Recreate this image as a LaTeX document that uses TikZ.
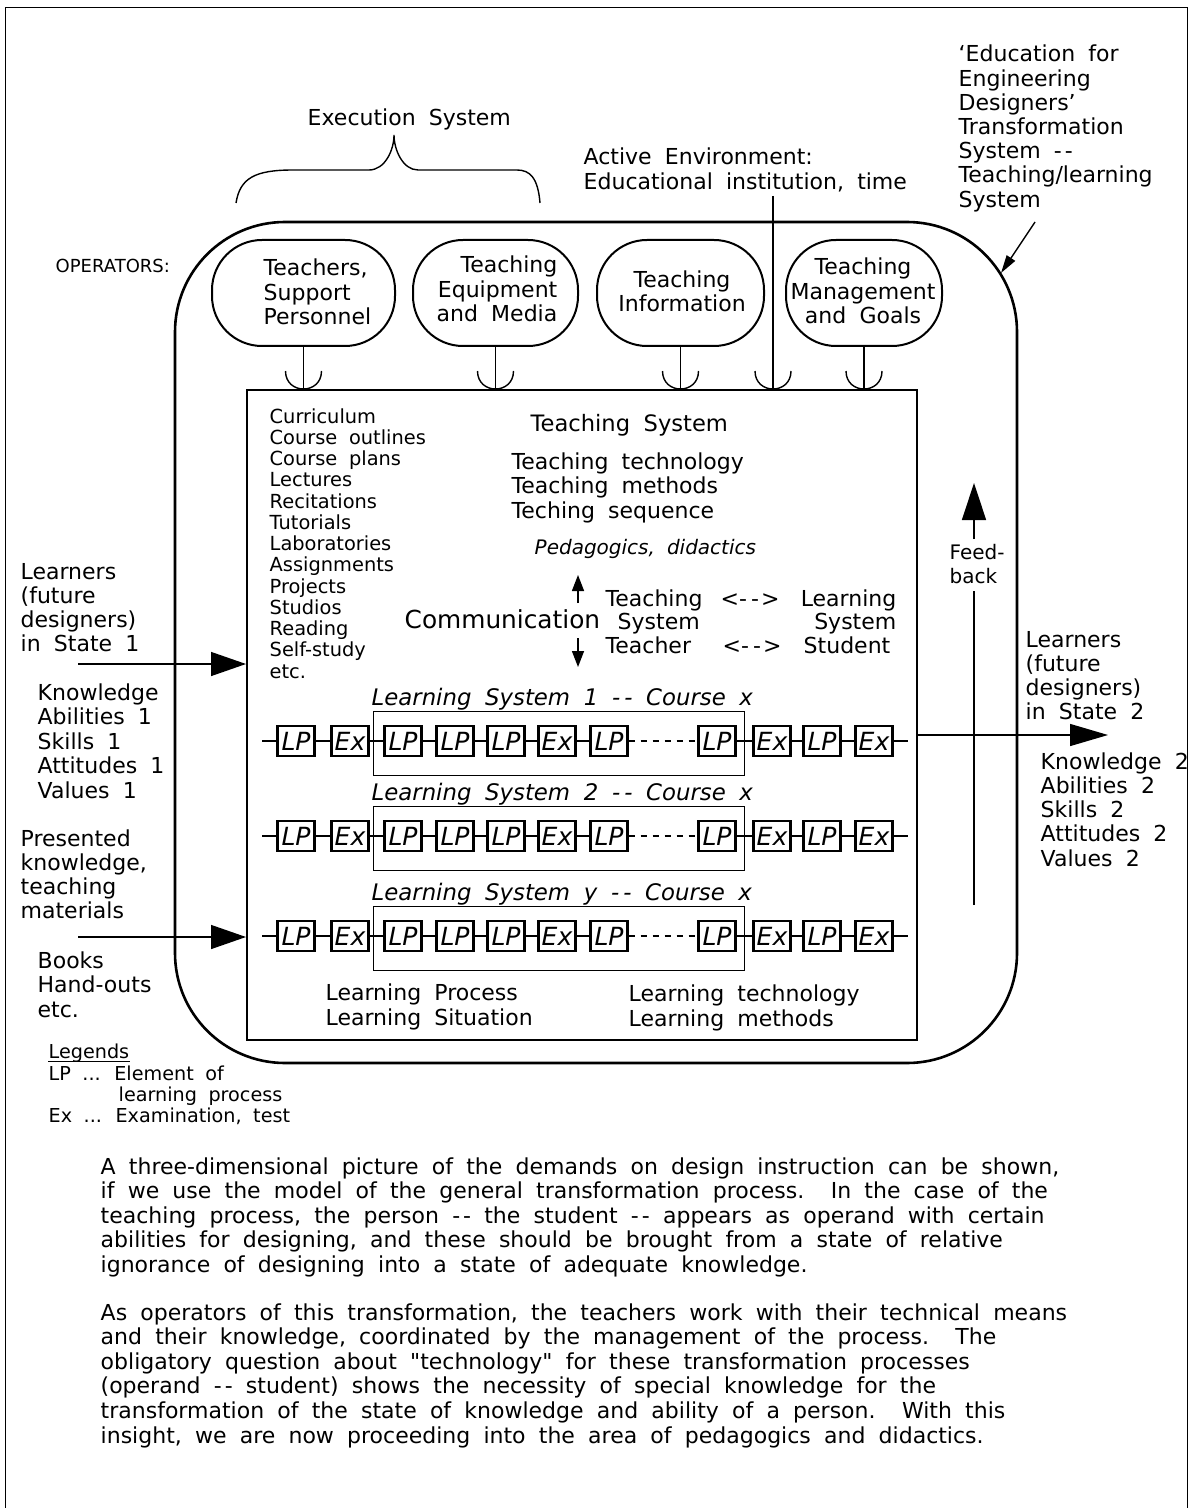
\documentclass[tikz,border=0pt]{standalone}
\usepackage{fontspec}
\setmainfont{DejaVu Sans}
\usetikzlibrary{arrows.meta}

\newcommand\widesp{\spaceskip=0.6em plus 0.1em\relax}

\tikzset{
  txt/.style={anchor=base west, inner sep=0pt, font=\fontsize{11}{12.25}\selectfont\widesp},
  smalltxt/.style={txt, font=\fontsize{9.7}{10.6}\selectfont\widesp},
  legtxt/.style={txt, font=\fontsize{9.6}{10.5}\selectfont\widesp},
  ittxt/.style={txt, font=\fontsize{11.4}{12}\selectfont\itshape\widesp},
  oper/.style={draw, line width=1pt, rounded corners=25pt, minimum height=53pt, inner sep=0pt},
  opertxt/.style={inner sep=0pt, font=\fontsize{11}{12.2}\selectfont\widesp},
  lpbox/.style={draw, line width=1.1pt, minimum width=18.5pt, minimum height=15pt, inner sep=0pt, font=\fontsize{12.5}{13}\selectfont\itshape},
  bigarrow/.style={-{Triangle[length=17.5pt,width=12pt]}},
  smallarrow/.style={-{Triangle[length=8pt,width=6pt]}},
}

\begin{document}
\begin{tikzpicture}[x=0.5pt,y=0.5pt,yscale=-1,xscale=1,line width=0.7pt]
\useasboundingbox (0,0) rectangle (1192,1508);

%Page frame
\draw[line width=0.5pt] (5,1508) -- (5,8) -- (1187,8) -- (1187,1508);

%Shape: Rounded Rectangle [transformation system]
\node[draw, line width=1.3pt, rounded corners=55pt, minimum width=421pt, minimum height=420.5pt, inner sep=0pt] (tlsys) at (596,642.5) {};
%Shape: Rectangle [teaching system]
\node[draw, line width=1pt, minimum width=335pt, minimum height=325pt, inner sep=0pt] (teachsys) at (582,715) {};

%Shape: Operators
\node[oper, minimum width=91.5pt] (tsp) at (303.5,293) {};
\node[oper, minimum width=82.5pt] (tem) at (495.5,293) {};
\node[oper, minimum width=83.5pt] (tin) at (680.5,293) {};
\node[oper, minimum width=78pt] (tmg) at (864,293) {};
% Text Node
\node[opertxt, anchor=west, align=left] (tsp-t) at (263,292) {Teachers,\\Support\\Personnel};
\node[opertxt, anchor=east, align=right] (tem-t) at (558,289) {Teaching\\Equipment\\and Media};
\node[opertxt, align=center] (tin-t) at (682,291) {Teaching\\Information};
\node[opertxt, align=center] (tmg-t) at (863,291) {Teaching\\Management\\and Goals};

%Straight Lines [operators into teaching system]
\foreach \o in {tsp,tem,tin,tmg}
  \draw (\o.south) -- (\o.south |- teachsys.north) coordinate (c-\o);
\coordinate (envtop) at (773,196);
\draw (envtop) -- (envtop |- teachsys.north) coordinate (c-env);
\foreach \o in {tsp,tem,tin,tmg,env}
  \draw ([shift={(-18,-18)}]c-\o) .. controls +(0,24) and +(0,24) .. ([shift={(18,-18)}]c-\o);

%Curve Lines [brace]
\draw (236,203) .. controls (240,178) and (255,170) .. (293,170) -- (369,170) .. controls (385,170) and (394,150) .. (394,135) .. controls (394,150) and (403,170) .. (418,170) -- (517,170) .. controls (530,170) and (538,178) .. (540,203);

% Text Node
\node[txt] (exec) at (307,126) {Execution System};
\node[txt] (env-1) at (583,165) {Active Environment:};
\node[txt] (env-2) at (583,190) {Educational institution, time};
\node[txt, font=\fontsize{9}{10}\selectfont] (opers) at (55,273) {OPERATORS:};
\foreach \itm [count=\i from 0] in {{`Education for},{Engineering},{Designers'},{Transformation},{System -\kern1.5pt-},{Teaching/learning},{System}}
  \node[txt] (et-\i) at (958,62+24.2*\i) {\itm};

%Straight Lines [arrow to transformation system]
\coordinate (etr) at (1035,222);
\coordinate (etip) at (1001,273);
\draw[-{Triangle[length=9pt,width=5pt]}] (etr) -- (etip);

% Text Node [teaching system contents]
\foreach \itm [count=\i from 0] in {{Curriculum},{Course outlines},{Course plans},{Lectures},{Recitations},{Tutorials},{Laboratories},{Assignments},{Projects},{Studios},{Reading},{Self-study},{etc.}}
  \node[smalltxt] (cl-\i) at (269,423+21.25*\i) {\itm};
\node[txt, font=\fontsize{11.3}{12}\selectfont\widesp] (tshead) at (530,431) {Teaching System};
\foreach \itm [count=\i from 0] in {{Teaching technology},{Teaching methods},{Teching sequence}}
  \node[txt] (tt-\i) at (511,469+24.5*\i) {\itm};
\node[txt, font=\fontsize{10}{11}\selectfont\itshape\widesp] (peda) at (534,554) {Pedagogics, didactics};
\node[txt, font=\fontsize{12.4}{13}\selectfont] (comm) at (404,628) {Communication};
\node[txt] (cm-1) at (605,606) {Teaching};
\node[txt] (cm-2) at (720,606) {<-\kern2pt-\kern1pt>};
\node[txt, anchor=base east] (cm-3) at (897,606) {Learning};
\node[txt] (cm-4) at (617,629) {System};
\node[txt, anchor=base east] (cm-5) at (897,629) {System};
\node[txt] (cm-6) at (605,653) {Teacher};
\node[txt] (cm-7) at (722,653) {<-\kern2pt-\kern1pt>};
\node[txt, anchor=base east] (cm-8) at (891,653) {Student};

%Straight Lines [communication arrows]
\coordinate (cmup-0) at (578,603);
\coordinate (cmup-1) at (578,575);
\coordinate (cmdn-0) at (578,638);
\coordinate (cmdn-1) at (578,667);
\draw[smallarrow] (cmup-0) -- (cmup-1);
\draw[smallarrow] (cmdn-0) -- (cmdn-1);

%Shape: Learning systems
\foreach \r/\yy/\nm in {1/741/1,2/836/2,3/936/y}{
  \node[ittxt] (lst-\r) at (371,\yy-36) {Learning System \nm\ -\kern2pt- Course x};
  \foreach \lbl/\xx [count=\i] in {LP/296,Ex/350,LP/403,LP/455,LP/506,Ex/557,LP/609,LP/717,Ex/772,LP/822,Ex/874}
    \node[lpbox] (b\r-\i) at (\xx,\yy) {\lbl};
  \coordinate (in\r) at (262,\yy);
  \coordinate (out\r) at (908,\yy);
  \draw (in\r) -- (b\r-1);
  \foreach \i [evaluate=\i as \j using int(\i+1)] in {1,2,3,4,5,6,8,9,10}
    \draw (b\r-\i) -- (b\r-\j);
  \draw[dashed] (b\r-7) -- (b\r-8);
  \draw (b\r-11) -- (out\r);
  \draw[line width=0.5pt] ([shift={(-10,-13)}]b\r-3.north west) rectangle ([shift={(8,18)}]b\r-8.south east);
}

% Text Node
\node[txt] (lp-1) at (325,1000) {Learning Process};
\node[txt] (lp-2) at (325,1025) {Learning Situation};
\node[txt] (lt-1) at (628,1001) {Learning technology};
\node[txt] (lt-2) at (628,1026) {Learning methods};

%Straight Lines [inputs]
\coordinate (lrn1) at (78,664);
\coordinate (pres) at (78,937);
\draw[bigarrow] (lrn1) -- (lrn1 -| teachsys.west);
\draw[bigarrow] (pres) -- (pres -| teachsys.west);
% Text Node
\foreach \itm [count=\i from 0] in {{Learners},{(future},{designers)},{in State 1}}
  \node[txt] (ls1-\i) at (20,579+24.3*\i) {\itm};
\foreach \itm [count=\i from 0] in {{Knowledge},{Abilities 1},{Skills 1},{Attitudes 1},{Values 1}}
  \node[txt] (ka1-\i) at (37,700+24.5*\i) {\itm};
\foreach \itm [count=\i from 0] in {{Presented},{knowledge,},{teaching},{materials}}
  \node[txt] (pk-\i) at (20,846+24.3*\i) {\itm};
\foreach \itm [count=\i from 0] in {{Books},{Hand-outs},{etc.}}
  \node[txt] (bk-\i) at (37,968+24.5*\i) {\itm};
\node[legtxt] (leg-0) at (48,1058) {Legends};
\draw[line width=0.5pt] ([yshift=1.6pt]leg-0.base west) -- ([yshift=1.6pt]leg-0.base east);
\node[legtxt] (leg-1) at (48,1080) {LP ... Element of};
\node[legtxt] (leg-2) at (118,1101) {learning process};
\node[legtxt] (leg-3) at (48,1122) {Ex ... Examination, test};

%Straight Lines [output]
\coordinate (lrn2) at (1108,735);
\draw[-{Triangle[length=19pt,width=11pt]}] (lrn2 -| teachsys.east) -- (lrn2);
\foreach \itm [count=\i from 0] in {{Learners},{(future},{designers)},{in State 2}}
  \node[txt] (ls2-\i) at (1025,647+24*\i) {\itm};
\foreach \itm [count=\i from 0] in {{Knowledge 2},{Abilities 2},{Skills 2},{Attitudes 2},{Values 2}}
  \node[txt] (ka2-\i) at (1040,769+24.3*\i) {\itm};

%Straight Lines [feedback]
\node[txt, font=\fontsize{10}{11}\selectfont] (fb-1) at (949,559) {Feed-};
\node[txt, font=\fontsize{10}{11}\selectfont] (fb-2) at (949,583) {back};
\coordinate (fbbot) at (974,905);
\coordinate (fbtip) at (974,483);
\draw[shorten >=3.5pt] (fbbot) -- (fbbot |- fb-2.south);
\draw[shorten <=2pt, -{Triangle[length=18.5pt,width=12pt]}] (fbbot |- fb-1.north) -- (fbtip);

% Text Node [paragraphs]
\foreach \itm [count=\i from 0] in {{A three-dimensional picture of the demands on design instruction can be shown,},{if we use the model of the general transformation process.\ \ In the case of the},{teaching process, the person -\kern1.5pt- the student -\kern1.5pt- appears as operand with certain},{abilities for designing, and these should be brought from a state of relative},{ignorance of designing into a state of adequate knowledge.}}
  \node[txt] (pa-\i) at (100,1174+24.5*\i) {\itm};
\foreach \itm [count=\i from 0] in {{As operators of this transformation, the teachers work with their technical means},{and their knowledge, coordinated by the management of the process.\ \ The},{obligatory question about \textquotedbl technology\textquotedbl\ for these transformation processes},{(operand -\kern1.5pt- student) shows the necessity of special knowledge for the},{transformation of the state of knowledge and ability of a person.\ \ With this},{insight, we are now proceeding into the area of pedagogics and didactics.}}
  \node[txt] (pb-\i) at (100,1320+24.6*\i) {\itm};

\end{tikzpicture}
\end{document}
